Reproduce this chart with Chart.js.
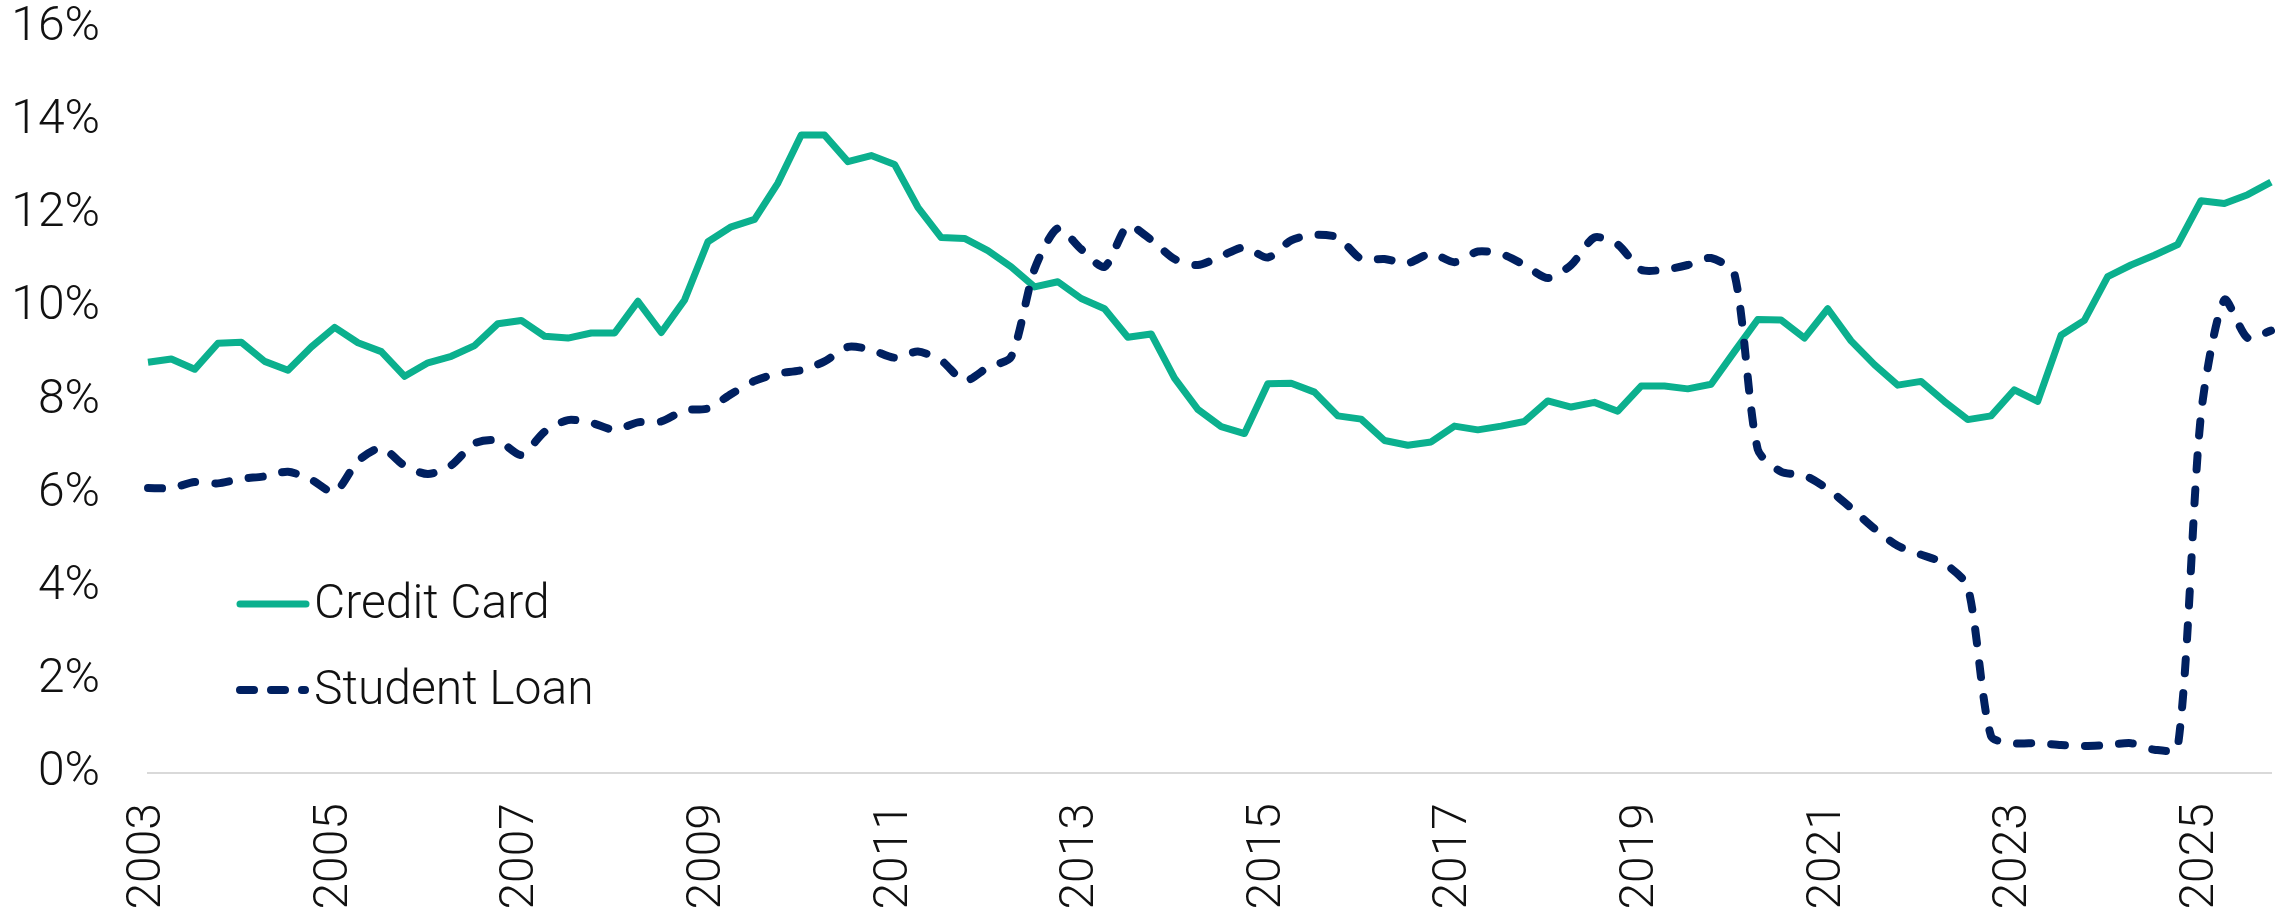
<!DOCTYPE html>
<html>
<head>
<meta charset="utf-8">
<script src="https://cdn.jsdelivr.net/npm/chart.js@4"></script>
<style>
  body { margin: 0; background: #fff; }
  #wrap { width: 2280px; height: 915px; }
</style>
</head>
<body>
<div id="wrap"><canvas id="delinquencyChart"></canvas></div>
<script>
// quarterly, 2003 Q1 .. 2025 Q4
const years = ['2003','2004','2005','2006','2007','2008','2009','2010','2011','2012','2013','2014',
  '2015','2016','2017','2018','2019','2020','2021','2022','2023','2024','2025'];
const tickYears = ['2003','2005','2007','2009','2011','2013','2015','2017','2019','2021','2023','2025'];
const yTicks = [0, 2, 4, 6, 8, 10, 12, 14, 16];

const creditCard = [
  8.82, 8.89, 8.67, 9.23, 9.25, 8.84, 8.65, 9.15, 9.57, 9.24, 9.05, 8.52,
  8.81, 8.95, 9.18, 9.65, 9.72, 9.38, 9.34, 9.45, 9.45, 10.13, 9.46, 10.16,
  11.41, 11.73, 11.89, 12.67, 13.70, 13.70, 13.13, 13.26, 13.07, 12.15, 11.50, 11.48,
  11.22, 10.87, 10.44, 10.55, 10.19, 9.97, 9.36, 9.43, 8.48, 7.81, 7.44, 7.29,
  8.36, 8.37, 8.18, 7.67, 7.60, 7.14, 7.04, 7.11, 7.45, 7.37, 7.45, 7.55,
  7.99, 7.86, 7.96, 7.77, 8.31, 8.31, 8.25, 8.35, 9.05, 9.74, 9.73, 9.34,
  9.97, 9.28, 8.77, 8.33, 8.41, 7.98, 7.59, 7.67, 8.23, 7.98, 9.40, 9.72,
  10.66, 10.91, 11.12, 11.35, 12.29, 12.23, 12.42, 12.69
];
const studentLoan = [
  6.12, 6.12, 6.25, 6.22, 6.32, 6.37, 6.47, 6.30, 6.03, 6.70, 6.98, 6.60,
  6.42, 6.61, 7.08, 7.14, 6.83, 7.33, 7.58, 7.52, 7.37, 7.53, 7.55, 7.79,
  7.83, 8.14, 8.42, 8.58, 8.65, 8.84, 9.15, 9.09, 8.92, 9.05, 8.86, 8.42,
  8.71, 8.94, 10.82, 11.70, 11.25, 10.87, 11.75, 11.45, 11.04, 10.91, 11.10, 11.29,
  11.07, 11.44, 11.56, 11.50, 11.04, 11.04, 10.95, 11.16, 10.97, 11.20, 11.15, 10.91,
  10.63, 10.91, 11.50, 11.35, 10.81, 10.81, 10.91, 11.06, 10.72, 6.95, 6.47, 6.39,
  6.10, 5.69, 5.25, 4.88, 4.69, 4.50, 4.00, 0.79, 0.64, 0.64, 0.60, 0.58,
  0.60, 0.64, 0.50, 0.54, 7.70, 10.16, 9.34, 9.50
];

const quarters = [];
years.forEach(y => { ['Q1','Q2','Q3','Q4'].forEach(q => quarters.push(y + ' ' + q)); });

const green = '#0BB08E';
const navy = '#002060';
const labelFont = { family: 'Roboto', weight: '300', size: 48 };

// legend drawn inside the plot, bottom-left
const insideLegend = {
  id: 'insideLegend',
  afterDatasetsDraw(chart) {
    const { ctx, chartArea } = chart;
    const rows = [chartArea.bottom - 169, chartArea.bottom - 83];
    chart.data.datasets.forEach((ds, i) => {
      const y = rows[i];
      const x0 = chartArea.left + 92;
      ctx.save();
      ctx.strokeStyle = ds.borderColor;
      ctx.lineWidth = ds.borderWidth;
      ctx.lineCap = 'round';
      ctx.setLineDash(ds.borderDash ? [14, 17] : []);
      ctx.beginPath();
      ctx.moveTo(x0, y);
      ctx.lineTo(x0 + (ds.borderDash ? 65 : 66), y);
      ctx.stroke();
      ctx.setLineDash([]);
      ctx.fillStyle = '#111';
      ctx.font = '300 48px Roboto';
      ctx.textBaseline = 'middle';
      ctx.fillText(ds.label, chartArea.left + 166, y + 2);
      ctx.restore();
    });
  }
};

new Chart(document.getElementById('delinquencyChart'), {
  type: 'line',
  data: {
    labels: quarters,
    datasets: [
      {
        label: 'Credit Card',
        data: creditCard,
        borderColor: green,
        borderWidth: 7,
        pointRadius: 0,
        tension: 0,
        borderJoinStyle: 'round',
        order: 1
      },
      {
        label: 'Student Loan',
        data: studentLoan,
        borderColor: navy,
        borderWidth: 8,
        borderDash: [14, 20],
        borderCapStyle: 'round',
        pointRadius: 0,
        tension: 0.25,
        order: 0
      }
    ]
  },
  options: {
    responsive: true,
    maintainAspectRatio: false,
    animation: false,
    layout: { padding: { top: 28, right: 9, left: 0, bottom: 0 } },
    plugins: { legend: { display: false }, tooltip: { enabled: false } },
    scales: {
      x: {
        offset: false,
        grid: { display: false },
        border: { display: true, color: '#d9d9d9', width: 2 },
        ticks: {
          autoSkip: false,
          maxRotation: 90,
          minRotation: 90,
          padding: 22,
          color: '#111',
          font: labelFont,
          callback: function (val, idx) {
            const q = quarters[idx];
            const yr = q.slice(0, 4);
            return (q.endsWith('Q1') && tickYears.includes(yr)) ? yr : '';
          }
        },
        afterFit: function (scale) {
          scale.height = 142;
          scale.paddingLeft = 0;
          scale.paddingRight = 0;
        }
      },
      y: {
        min: 0,
        max: 16,
        grid: { display: false },
        border: { display: false },
        afterBuildTicks: function (scale) { scale.ticks = yTicks.map(v => ({ value: v })); },
        ticks: {
          padding: 40,
          color: '#111',
          font: labelFont,
          callback: v => v + '%'
        },
        afterFit: function (scale) {
          scale.width = 148;
          scale.paddingTop = 0;
          scale.paddingBottom = 0;
        }
      }
    }
  },
  plugins: [insideLegend]
});
</script>
</body>
</html>
